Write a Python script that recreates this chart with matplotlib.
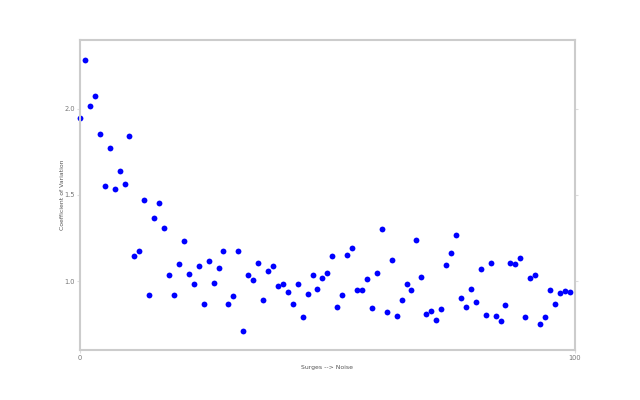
import matplotlib
matplotlib.use("Agg")
import matplotlib.pyplot as plt

x_vals = list(range(100))
cv_vals = [
    1.948, 2.283, 2.019, 2.072, 1.853, 1.552, 1.773, 1.533, 1.638, 1.564,
    1.843, 1.143, 1.176, 1.469, 0.920, 1.364, 1.452, 1.306, 1.033, 0.920,
    1.097, 1.231, 1.041, 0.985, 1.089, 0.870, 1.118, 0.990, 1.076, 1.172,
    0.866, 0.911, 1.172, 0.709, 1.035, 1.006, 1.105, 0.890, 1.060, 1.087,
    0.970, 0.983, 0.936, 0.870, 0.981, 0.793, 0.928, 1.035, 0.953, 1.019,
    1.048, 1.143, 0.851, 0.917, 1.153, 1.192, 0.946, 0.946, 1.010, 0.843,
    1.050, 1.300, 0.820, 1.122, 0.797, 0.890, 0.981, 0.950, 1.236, 1.025,
    0.808, 0.828, 0.775, 0.837, 1.095, 1.165, 1.266, 0.903, 0.851, 0.955,
    0.876, 1.068, 0.804, 1.103, 0.797, 0.769, 0.860, 1.107, 1.099, 1.132,
    0.793, 1.016, 1.033, 0.752, 0.791, 0.950, 0.868, 0.932, 0.940, 0.936,
]
x_ticks = [0, 100]
y_ticks = [1.0, 1.5, 2.0]

fig = plt.figure(figsize=(6.4, 4.0), dpi=100)
ax = fig.add_axes([0.125, 0.125, 0.773, 0.775])
ax.plot(x_vals, cv_vals, 'o', color='#0000ff', markersize=4.2, markeredgewidth=0, clip_on=False)
ax.set_xlim(0, 100)
ax.set_ylim(0.6, 2.4)
ax.set_xticks(x_ticks)
ax.set_xticklabels([str(t) for t in x_ticks])
ax.set_yticks(y_ticks)
ax.set_yticklabels([f"{t:.1f}" for t in y_ticks])
for s in ax.spines.values():
    s.set_color('#cccccc')
    s.set_linewidth(1.5)
ax.tick_params(axis='both', colors='#dddddd', labelcolor='#777777', labelsize=4.8,
               length=2, width=0.8, direction='out', right=True, top=False, pad=1.5)
ax.set_xlabel("Surges --> Noise", fontsize=4.4, color='#555555', labelpad=3)
ax.set_ylabel("Coefficient of Variation", fontsize=4.4, color='#555555', labelpad=0)
fig.savefig("out.png", dpi=100)
